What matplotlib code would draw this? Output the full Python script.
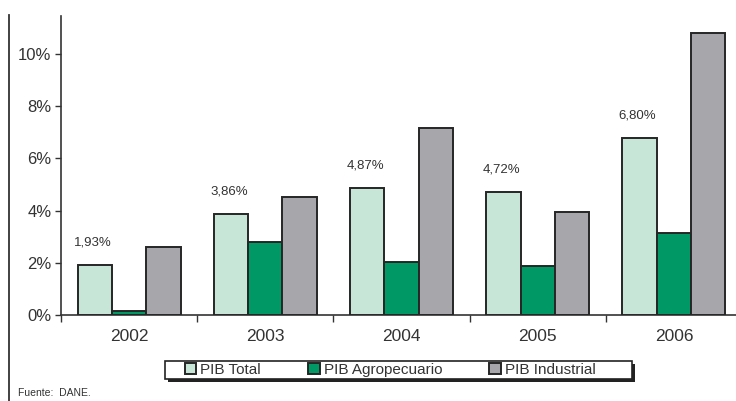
import matplotlib
matplotlib.use("Agg")
import matplotlib.pyplot as plt
import numpy as np
from matplotlib.ticker import FuncFormatter
from matplotlib.lines import Line2D
from matplotlib.patches import Rectangle

plt.rcParams['font.family'] = ['Liberation Sans', 'DejaVu Sans']

years = ['2002', '2003', '2004', '2005', '2006']
pib_total = [1.93, 3.86, 4.87, 4.72, 6.80]
pib_agro = [0.15, 2.80, 2.03, 1.88, 3.14]
pib_ind = [2.60, 4.52, 7.16, 3.95, 10.80]
total_labels = ['1,93%', '3,86%', '4,87%', '4,72%', '6,80%']
series_names = ['PIB Total', 'PIB Agropecuario', 'PIB Industrial']
colors = ['#C8E6D8', '#009966', '#A7A7AB']

W, H = 736, 401
fig = plt.figure(figsize=(7.36, 4.01), dpi=100)
ax = fig.add_axes([61/W, 1 - 315/H, (742 - 61)/W, (315 - 16)/H])

x = np.arange(len(years))
w = 0.252
edge = '#262626'
for i, (vals, c, name) in enumerate(zip([pib_total, pib_agro, pib_ind], colors, series_names)):
    ax.bar(x + (i - 1) * w, vals, width=w, color=c, edgecolor=edge, linewidth=1.4, label=name, zorder=3)

for xi, v, lab in zip(x, pib_total, total_labels):
    ax.text(xi - w - 0.015, v + 0.86, lab, ha='center', va='center', fontsize=9.5, color='#333333')

ax.set_xlim(-0.5, len(years) - 0.5)
ax.set_ylim(0, 11.46)
ax.set_yticks([0, 2, 4, 6, 8, 10])
ax.yaxis.set_major_formatter(FuncFormatter(lambda v, p: f'{int(v)}%'))
ax.tick_params(axis='y', labelsize=12, length=4, width=1, color='#333333', labelcolor='#333333', pad=3)

ax.set_xticks(x)
ax.set_xticklabels(years)
ax.tick_params(axis='x', which='major', length=0, labelsize=12.5, pad=10, labelcolor='#333333')
ax.set_xticks(np.arange(len(years) + 1) - 0.5, minor=True)
ax.tick_params(axis='x', which='minor', length=5, width=1, color='#333333', direction='out')

for s in ['top', 'right']:
    ax.spines[s].set_visible(False)
for s in ['left', 'bottom']:
    ax.spines[s].set_color('#333333')
    ax.spines[s].set_linewidth(1.2)

# legend frame with shadow
fig.add_artist(Rectangle((168/W, 1 - 382/H), (632 - 165)/W, (379 - 361)/H, transform=fig.transFigure,
                         facecolor='#222222', edgecolor='none', zorder=1))
fig.add_artist(Rectangle((165/W, 1 - 379/H), (632 - 165)/W, (379 - 361)/H, transform=fig.transFigure,
                         facecolor='white', edgecolor='#222222', linewidth=1.2, zorder=2))
leg = fig.legend(loc='center left', bbox_to_anchor=(185/W, 1 - 370/H), ncol=3, fontsize=11,
                 frameon=False, handlelength=0.75, handleheight=0.75, handletextpad=0.25,
                 columnspacing=3.1, borderpad=0, borderaxespad=0, labelcolor='#333333')
leg.set_zorder(3)

fig.add_artist(Line2D([9/W, 9/W], [0, 1 - 15/H], transform=fig.transFigure, color='#333333', linewidth=1.3))
fig.text(18/W, 1 - 393/H, 'Fuente:  DANE.', fontsize=7.5, color='#333333', va='center', ha='left')

fig.savefig('out.png', dpi=100)
